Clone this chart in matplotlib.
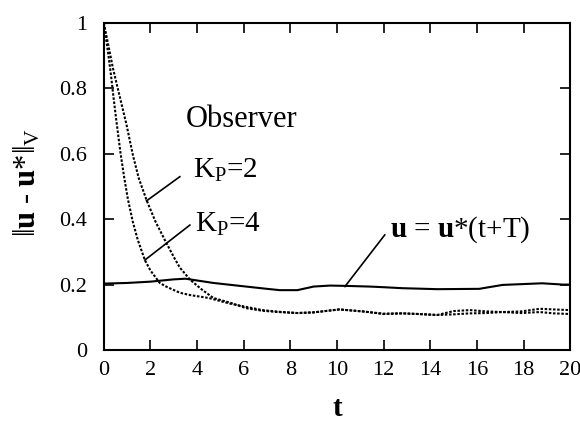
import matplotlib.pyplot as plt
import numpy as np

plt.rcParams['font.family'] = ['Liberation Serif', 'DejaVu Serif']
plt.rcParams['mathtext.fontset'] = 'custom'
plt.rcParams['mathtext.rm'] = 'Liberation Serif'
plt.rcParams['mathtext.it'] = 'Liberation Serif:italic'
plt.rcParams['mathtext.bf'] = 'Liberation Serif:bold'
plt.rcParams['mathtext.fallback'] = 'stix'

# observer, K_P = 4 (faster decay)
t_kp4 = [0, 0.1, 0.2, 0.3, 0.42, 0.54, 0.72, 0.88, 1.03, 1.25, 1.46, 1.76, 2.0,
         2.4, 2.7, 3.26, 3.7, 4.5, 5.4, 6.1, 6.8, 7.5, 8.3, 9.0, 10.1, 11.1,
         12.0, 12.8, 13.5, 14.3, 15.0, 15.7, 16.4, 17.1, 17.9, 18.7, 19.3, 20.0]
v_kp4 = [1.0, 0.95, 0.90, 0.845, 0.77, 0.70, 0.60, 0.525, 0.462, 0.39, 0.336,
         0.275, 0.243, 0.205, 0.193, 0.175, 0.168, 0.159, 0.142, 0.132, 0.122,
         0.117, 0.113, 0.115, 0.124, 0.118, 0.11, 0.112, 0.11, 0.107, 0.109,
         0.112, 0.113, 0.116, 0.113, 0.116, 0.112, 0.11]

# observer, K_P = 2
t_kp2 = [0, 0.1, 0.2, 0.39, 0.7, 0.97, 1.25, 1.5, 1.83, 2.2, 2.62, 3.05, 3.26,
         3.7, 4.2, 4.7, 5.4, 6.1, 6.8, 7.5, 8.3, 9.0, 10.1, 11.1, 12.0, 12.8,
         13.5, 14.3, 15.0, 15.7, 16.4, 17.1, 17.9, 18.7, 19.3, 20.0]
v_kp2 = [1.0, 0.965, 0.93, 0.862, 0.77, 0.69, 0.595, 0.525, 0.459, 0.395,
         0.336, 0.278, 0.252, 0.215, 0.185, 0.159, 0.145, 0.128, 0.12, 0.116,
         0.113, 0.115, 0.124, 0.118, 0.111, 0.112, 0.11, 0.107, 0.119, 0.122,
         0.118, 0.116, 0.118, 0.126, 0.124, 0.122]

# u = u*(t+T)
t_u = [0, 1, 2, 3, 3.5, 4.7, 6.1, 7.0, 7.55, 8.3, 9.0, 9.7, 10.4, 11.4, 12.0,
       12.8, 14.3, 16.1, 17.1, 18.8, 19.7, 20.0]
v_u = [0.203, 0.205, 0.209, 0.216, 0.218, 0.205, 0.194, 0.187, 0.183, 0.183,
       0.194, 0.197, 0.196, 0.194, 0.192, 0.189, 0.186, 0.187, 0.199, 0.204,
       0.2, 0.2]

xticks = np.arange(0, 21, 2)
yticks = [0, 0.2, 0.4, 0.6, 0.8, 1.0]
ytick_labels = ['0', '0.2', '0.4', '0.6', '0.8', '1']

fig = plt.figure(figsize=(5.8, 4.23), dpi=100)
ax = fig.add_axes([0.179, 0.1726, 0.804, 0.773])

dots = (0, (1.2, 0.8))
ax.plot(t_kp2, v_kp2, color='black', lw=1.5, linestyle=dots)
ax.plot(t_kp4, v_kp4, color='black', lw=1.5, linestyle=dots)
ax.plot(t_u, v_u, color='black', lw=1.5)

ax.set_xlim(0, 20)
ax.set_ylim(0, 1)
ax.set_xticks(xticks)
ax.set_yticks(yticks)
ax.set_yticklabels(ytick_labels)
ax.tick_params(direction='in', length=7, width=1.2, top=True, right=True,
               labelsize=16)
ax.tick_params(axis='x', pad=8)
ax.tick_params(axis='y', pad=12)
for s in ax.spines.values():
    s.set_linewidth(1.5)

ax.text(-0.165, 0.514, r'$\Vert\mathbf{u}$ - $\mathbf{u}$*$\Vert_\mathrm{V}$',
        transform=ax.transAxes, rotation=90, ha='center', va='center',
        fontsize=22)
ax.text(0.5, -0.178, 't', transform=ax.transAxes, ha='center', va='center',
        fontsize=21, fontweight='bold')

ax.text(3.52, 0.682, 'Observer', fontsize=22, va='baseline')
ax.text(3.82, 0.526, r'K$_\mathrm{P}$=2', fontsize=21, va='baseline')
ax.text(3.9, 0.361, r'K$_\mathrm{P}$=4', fontsize=21, va='baseline')
ax.text(12.27, 0.346, r'$\mathbf{u}$ = $\mathbf{u}$*(t+T)', fontsize=21,
        va='baseline')

ax.plot([3.26, 1.83], [0.53, 0.456], color='black', lw=1.2)
ax.plot([3.69, 1.76], [0.382, 0.275], color='black', lw=1.2)
ax.plot([12.05, 10.34], [0.352, 0.194], color='black', lw=1.2)

fig.savefig('out.png', dpi=100)
